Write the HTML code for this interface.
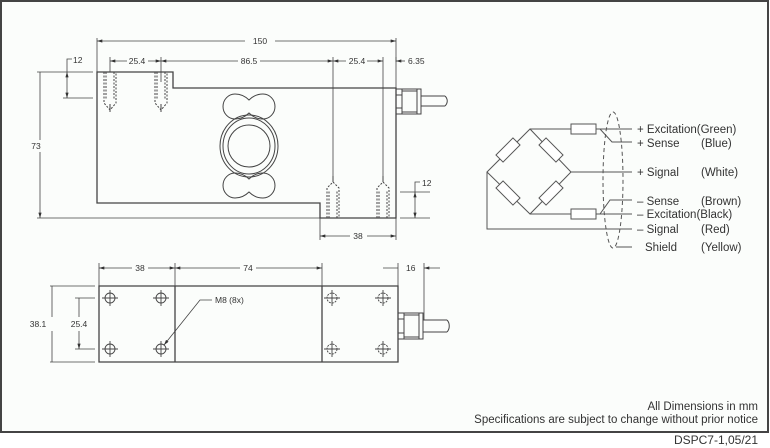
<!DOCTYPE html>
<html><head><style>
html,body{margin:0;padding:0;background:#fff;}
svg{display:block;}
text{font-family:"Liberation Sans",Arial,sans-serif;fill:#333;}
</style></head><body>
<svg width="770" height="448" viewBox="0 0 770 448" xmlns="http://www.w3.org/2000/svg">
<defs>
<marker id="a" viewBox="0 0 10 6" refX="10" refY="3" markerWidth="7" markerHeight="4" orient="auto-start-reverse"><path d="M0,0L10,3L0,6z" fill="#333"/></marker>
</defs>
<rect x="0" y="0" width="770" height="448" fill="#fff"/>
<rect x="1" y="1" width="767" height="431" fill="#fbfdfb" stroke="#444" stroke-width="2"/>
<g stroke="#444" stroke-width="1" fill="none">
<path d="M97,72H173V88H396V218H320V203H97Z" stroke-width="1.3"/>
<path d="M249,100C245,96 240,94 235,94A12,12.5 0 0,0 235,119C240,119 245,117 249,113C253,117 258,119 263,119A12,12.5 0 0,0 263,94C258,94 253,96 249,100Z"/>
<path d="M249,179C245,175 240,173 235,173A12,12.5 0 0,0 235,198C240,198 245,196 249,192C253,196 258,198 263,198A12,12.5 0 0,0 263,173C258,173 253,175 249,179Z"/>
<ellipse cx="249" cy="146" rx="29" ry="31"/>
<ellipse cx="249" cy="146" rx="26" ry="28"/>
<circle cx="249" cy="146" r="21"/>
<g stroke-dasharray="2,1.5">
<path d="M104,72V103L110,110L116,103V72M106,72V100M114,72V100"/>
<path d="M155,72V103L161,110L167,103V72M157,72V100M165,72V100"/>
<path d="M327,218V188L333,182L339,188V218M329,218V190M337,218V190"/>
<path d="M377,218V188L383,182L389,188V218M379,218V190M387,218V190"/>
</g>
<path d="M110,104V112M161,104V112M333,176V182M383,176V182"/>
<path d="M396,89H421V114H396ZM402,89V114M396,95H402M396,108H402M402,91H417M402,112H417M417,89V114M421,96H445M421,106H445M445,96C448,99 448,103 445,106"/>
<path d="M97,38V72M396,38V88" stroke-width="0.8"/>
<path d="M97,41H245M275,41H396" marker-start="url(#a)" marker-end="url(#a)" stroke-width="0.8"/>
<path d="M110,57V72M161,57V82M333,57V182M383,57V182M396,57V62" stroke-width="0.8"/>
<path d="M110,61H127M148,61H161" marker-start="url(#a)" marker-end="url(#a)" stroke-width="0.8"/>
<path d="M161,61H238M260,61H333" marker-start="url(#a)" marker-end="url(#a)" stroke-width="0.8"/>
<path d="M333,61H346M367,61H383" marker-start="url(#a)" marker-end="url(#a)" stroke-width="0.8"/>
<path d="M405,61H396" marker-end="url(#a)" stroke-width="0.8"/>
<path d="M37,72H93M63,98H93M37,218H320" stroke-width="0.8"/>
<path d="M67,72V98" marker-start="url(#a)" marker-end="url(#a)" stroke-width="0.8"/>
<path d="M67,72V59H72" stroke-width="0.8"/>
<path d="M40,140V72M40,152V218" marker-end="url(#a)" stroke-width="0.8"/>
<path d="M400,192H430M400,218H430" stroke-width="0.8"/>
<path d="M415,192V218" marker-start="url(#a)" marker-end="url(#a)" stroke-width="0.8"/>
<path d="M415,192V182H420" stroke-width="0.8"/>
<path d="M320,218V240M396,218V240" stroke-width="0.8"/>
<path d="M320,236H350M367,236H396" marker-start="url(#a)" marker-end="url(#a)" stroke-width="0.8"/>
<path d="M99,286H398V362H99ZM175,286V362M322,286V362" stroke-width="1.3"/>
<g stroke-width="0.9">
<circle cx="110" cy="298" r="5"/><circle cx="161" cy="298" r="5"/><circle cx="110" cy="349" r="5"/><circle cx="161" cy="349" r="5"/>
<circle cx="332" cy="298" r="5" stroke-dasharray="2,1"/><circle cx="383" cy="298" r="5" stroke-dasharray="2,1"/><circle cx="332" cy="349" r="5" stroke-dasharray="2,1"/><circle cx="383" cy="349" r="5" stroke-dasharray="2,1"/>
<path d="M102,298h16M110,290v16M153,298h16M161,290v16M102,349h16M110,341v16M153,349h16M161,341v16M324,298h16M332,290v16M375,298h16M383,290v16M324,349h16M332,341v16M375,349h16M383,341v16"/>
</g>
<path d="M398,313H423V339H398ZM404,313V339M398,319H404M398,333H404M404,315H419M404,337H419M419,313V339M423,320H447M423,332H447M447,320C450,323 450,329 447,332"/>
<path d="M99,263V286M175,263V286M322,263V286M398,263V286M424,263V320" stroke-width="0.8"/>
<path d="M99,268H132M148,268H175" marker-start="url(#a)" marker-end="url(#a)" stroke-width="0.8"/>
<path d="M175,268H240M256,268H322" marker-start="url(#a)" marker-end="url(#a)" stroke-width="0.8"/>
<path d="M383,268H398M440,268H424" marker-end="url(#a)" stroke-width="0.8"/>
<path d="M50,286H95M50,362H95M75,298H95M75,349H95" stroke-width="0.8"/>
<path d="M52,317V286M52,331V362M79,317V298M79,331V349" marker-end="url(#a)" stroke-width="0.8"/>
<path d="M212,300H200L164,345" marker-end="url(#a)" stroke-width="0.8"/>
<g stroke="#555" stroke-width="1">
<path d="M487,172L530,129L571,172L530,214Z"/>
<path d="M487,172V229H632M530,129H571M596,129H632M530,214H571M596,214H632M571,172H632M600,129L612,142H632M600,214L610,200H632M616,247H632"/>
<rect x="571" y="124" width="25" height="10" fill="#fff"/>
<rect x="571" y="209" width="25" height="10" fill="#fff"/>
<rect x="-12" y="-5" width="24" height="10" fill="#fff" transform="translate(508,150) rotate(-45)"/>
<rect x="-12" y="-5" width="24" height="10" fill="#fff" transform="translate(551,150) rotate(45)"/>
<rect x="-12" y="-5" width="24" height="10" fill="#fff" transform="translate(508,193) rotate(45)"/>
<rect x="-12" y="-5" width="24" height="10" fill="#fff" transform="translate(551,193) rotate(-45)"/>
<ellipse cx="613" cy="180" rx="10" ry="68" stroke-dasharray="4,3"/>
</g>
</g>
<g font-size="8.5">
<text x="260" y="44" text-anchor="middle">150</text>
<text x="137" y="64" text-anchor="middle">25.4</text>
<text x="249" y="64" text-anchor="middle">86.5</text>
<text x="357" y="64" text-anchor="middle">25.4</text>
<text x="408" y="64">6.35</text>
<text x="73" y="63">12</text>
<text x="36" y="149" text-anchor="middle">73</text>
<text x="422" y="186">12</text>
<text x="358" y="239" text-anchor="middle">38</text>
<text x="140" y="271" text-anchor="middle">38</text>
<text x="248" y="271" text-anchor="middle">74</text>
<text x="406" y="271">16</text>
<text x="38" y="327" text-anchor="middle">38.1</text>
<text x="79" y="327" text-anchor="middle">25.4</text>
<text x="215" y="303">M8 (8x)</text>
</g>
<g font-size="11.5">
<text x="637" y="133">+ Excitation(Green)</text>
<text x="637" y="147">+ Sense</text><text x="701" y="147">(Blue)</text>
<text x="637" y="176">+ Signal</text><text x="701" y="176">(White)</text>
<text x="637" y="205">– Sense</text><text x="701" y="205">(Brown)</text>
<text x="637" y="218">– Excitation(Black)</text>
<text x="637" y="233">– Signal</text><text x="701" y="233">(Red)</text>
<text x="645" y="251">Shield</text><text x="701" y="251">(Yellow)</text>
</g>
<g font-size="11.5" text-anchor="end">
<text x="758" y="410">All Dimensions in mm</text>
<text x="758" y="423">Specifications are subject to change without prior notice</text>
<text x="758" y="444" font-size="12">DSPC7-1,05/21</text>
</g>
</svg>
</body></html>
